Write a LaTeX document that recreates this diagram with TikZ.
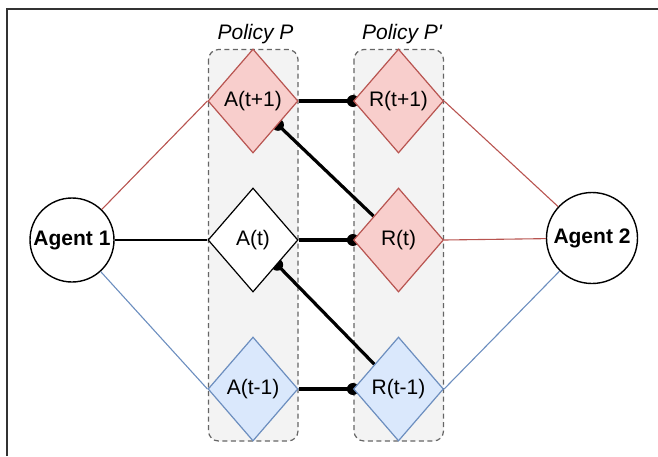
\documentclass[tikz,border=0pt]{standalone}
\usepackage{fontspec}
\setmainfont{Liberation Sans}[Ligatures=TeXOff]
\usetikzlibrary{shapes.geometric}
\definecolor{redfill}{HTML}{F8CECC}
\definecolor{redline}{HTML}{B85450}
\definecolor{bluefill}{HTML}{DAE8FC}
\definecolor{blueline}{HTML}{6C8EBF}
\definecolor{boxfill}{HTML}{F3F3F3}
\definecolor{boxline}{HTML}{666666}
\definecolor{frameline}{HTML}{333333}
\pgfdeclarelayer{bg}
\pgfdeclarelayer{mid}
\pgfsetlayers{bg,mid,main}
\tikzset{
  dia/.style={diamond, aspect=0.865, minimum width=90pt, minimum height=104pt, inner sep=0pt, draw, line width=1.2pt, font=\fontsize{21}{25}\selectfont},
  redd/.style={dia, fill=redfill, draw=redline},
  blued/.style={dia, fill=bluefill, draw=blueline},
  whited/.style={dia, fill=white, draw=black},
  agent/.style={circle, draw=black, fill=white, line width=1.4pt, inner sep=0pt, font=\bfseries\fontsize{21}{25}\selectfont},
  policybox/.style={draw=boxline, fill=boxfill, line width=1.2pt, dash pattern=on 5pt off 3.5pt, rounded corners=10pt},
  thin/.style={line width=1.1pt},
  thick link/.style={line width=3.2pt, black},
  enddot/.style={circle, fill=black, minimum size=12pt, inner sep=0pt},
  plabel/.style={font=\itshape\fontsize{21}{25}\selectfont, anchor=base}
}
\begin{document}
\begin{tikzpicture}[x=1pt, y=-1pt]
\useasboundingbox (0,0) rectangle (658,456);
% frame
\draw[frameline, line width=1.4pt] (7,456) -- (7,9) -- (658,9);
% policy boxes
\begin{pgfonlayer}{bg}
\draw[policybox] (208.5,49.5) rectangle (298,441);
\draw[policybox] (354,49.5) rectangle (443.5,441);
\end{pgfonlayer}
\node[plabel] (lp) at (255.5,39) {Policy P};
\node[plabel] (lpp) at (402,39) {Policy P'};
% diamonds
\node[redd] (Atp1) at (253,101) {A(t+1)};
\node[whited] (At) at (253,240) {A(t)};
\node[blued] (Atm1) at (253,389) {A(t-1)};
\node[redd] (Rtp1) at (398.5,101) {R(t+1)};
\node[redd] (Rt) at (398.5,240) {R(t)};
\node[blued] (Rtm1) at (398.5,389) {R(t-1)};
% agents
\node[agent, minimum size=84pt] (ag1) at (72,240) {Agent 1};
\node[agent, minimum size=91pt] (ag2) at (592,238) {Agent 2};
% connectors
\begin{pgfonlayer}{mid}
\draw[thick link] (Atp1.east) -- (Rtp1.west) node[enddot, pos=1] (d1) {};
\draw[thick link] (At.east) -- (Rt.west) node[enddot, pos=1] (d2) {};
\draw[thick link] (Atm1.east) -- (Rtm1.west) node[enddot, pos=1] (d3) {};
\draw[thick link] (Rt) -- (Atp1) node[enddot, pos=1] (d4) {};
\draw[thick link] (Rtm1) -- (At) node[enddot, pos=1] (d5) {};
\end{pgfonlayer}
\draw[thin, redline] (ag1) -- (Atp1.west);
\draw[thin, black] (ag1) -- (At.west);
\draw[thin, blueline] (ag1) -- (Atm1.west);
\draw[thin, redline] (Rtp1.east) -- (ag2);
\draw[thin, redline] (Rt.east) -- (ag2);
\draw[thin, blueline] (Rtm1.east) -- (ag2);
\end{tikzpicture}
\end{document}
